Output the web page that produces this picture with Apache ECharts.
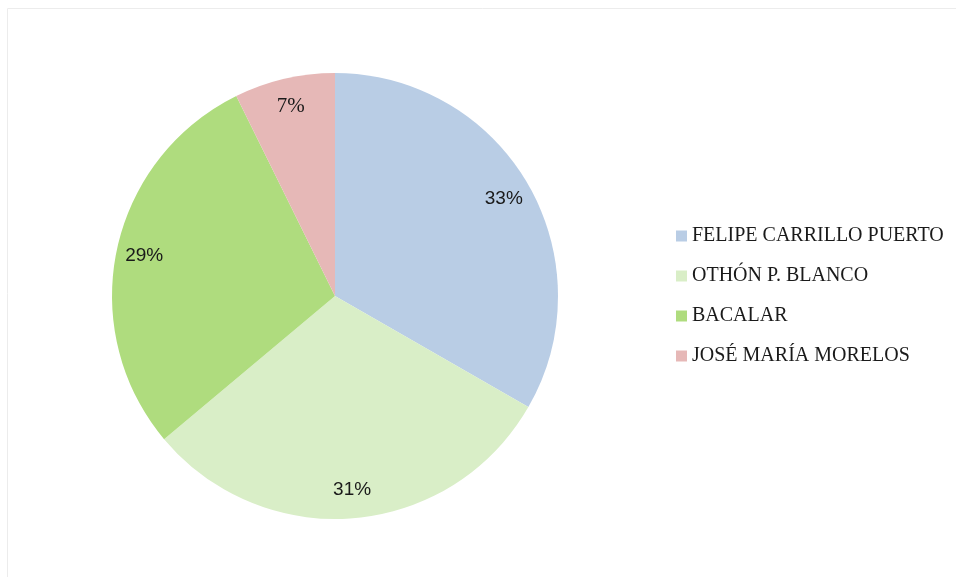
<!DOCTYPE html>
<html>
<head>
<meta charset="utf-8">
<script src="https://cdn.jsdelivr.net/npm/echarts@6/dist/echarts.min.js"></script>
<style>
  html, body { margin: 0; padding: 0; background: #fff; }
  #chart { width: 956px; height: 577px; }
</style>
</head>
<body>
<div id="chart"></div>
<script>
// municipios y su porcentaje
const categories = ["FELIPE CARRILLO PUERTO", "OTHÓN P. BLANCO", "BACALAR", "JOSÉ MARÍA MORELOS"];
const values = [33.3, 30.6, 28.8, 7.3];
const labels = ["33%", "31%", "29%", "7%"];
const colors = ["#B9CDE5", "#D9EEC7", "#AFDC7E", "#E6B8B7"];

const chart = echarts.init(document.getElementById("chart"));

const pieData = categories.map((name, i) => ({
  name: name,
  value: values[i],
  itemStyle: { color: colors[i] }
}));

chart.setOption({
  animation: false,
  graphic: [
    {
      type: "rect",
      shape: { x: 7.5, y: 8.5, width: 1000, height: 1000 },
      style: { fill: "none", stroke: "#ececec", lineWidth: 1 },
      silent: true
    }
  ],
  legend: {
    orient: "vertical",
    left: 671,
    top: 220,
    itemWidth: 11,
    itemHeight: 11,
    itemGap: 18,
    icon: "rect",
    textStyle: {
      fontFamily: "Liberation Serif",
      fontSize: 20,
      color: "#1a1a1a",
      lineHeight: 22
    },
    data: categories
  },
  series: [
    {
      type: "pie",
      center: [335, 296],
      radius: [0, 223],
      startAngle: 90,
      clockwise: true,
      label: { show: false },
      labelLine: { show: false },
      emphasis: { disabled: true },
      data: pieData
    },
    {
      // capa transparente solo para colocar las etiquetas
      type: "pie",
      center: [335, 296],
      radius: [161, 223],
      startAngle: 90,
      clockwise: true,
      silent: true,
      legendHoverLink: false,
      itemStyle: { color: "rgba(0,0,0,0)" },
      label: {
        show: true,
        position: "inside",
        fontSize: 19,
        color: "#1a1a1a",
        fontFamily: "Liberation Sans",
        formatter: p => labels[p.dataIndex]
      },
      labelLine: { show: false },
      data: categories.map((name, i) => ({
        name: name + " ",
        value: values[i],
        label: i === 3 ? { fontFamily: "Liberation Serif", fontSize: 21 } : {}
      }))
    }
  ]
});
</script>
</body>
</html>
